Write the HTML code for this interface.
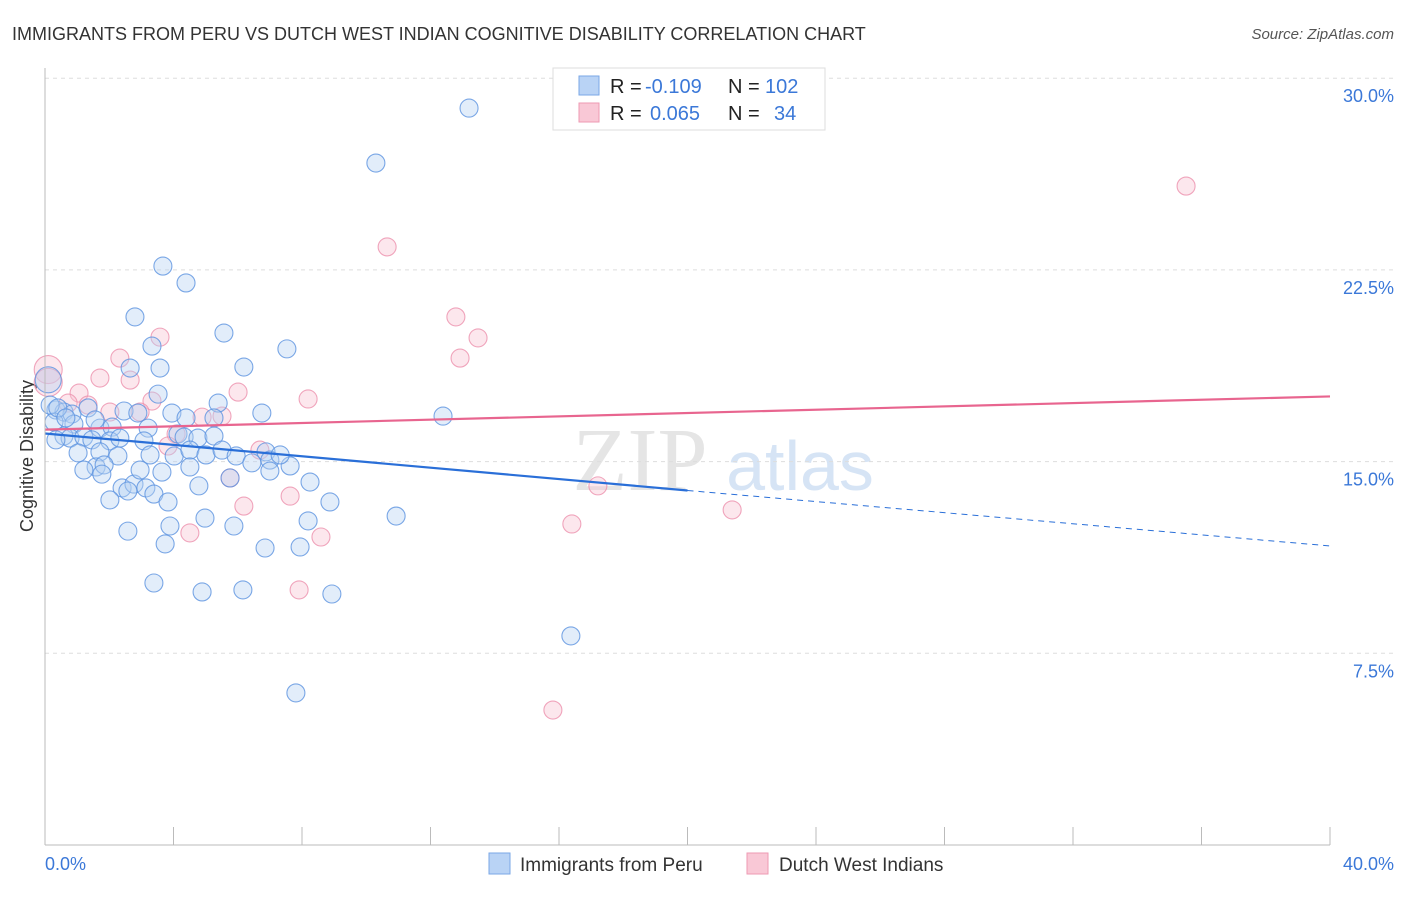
<!DOCTYPE html>
<html><head><meta charset="utf-8"><style>
body{margin:0;background:#fff;font-family:"Liberation Sans",sans-serif}
</style></head><body>
<svg id="c" width="1406" height="892" xmlns="http://www.w3.org/2000/svg">
<text x="12" y="40" font-size="18" fill="#333">IMMIGRANTS FROM PERU VS DUTCH WEST INDIAN COGNITIVE DISABILITY CORRELATION CHART</text>
<text x="1394" y="39" font-size="15" fill="#555" font-style="italic" text-anchor="end">Source: ZipAtlas.com</text>
<text x="33" y="456" font-size="18" fill="#333" text-anchor="middle" transform="rotate(-90 33 456)">Cognitive Disability</text>
<text x="640" y="490" font-size="90" fill="#e5e5e5" font-family="Liberation Serif" text-anchor="middle">ZIP</text>
<text x="800" y="490" font-size="70" fill="#d6e4f5" text-anchor="middle">atlas</text>
<g id="grid"></g><g id="pts"></g><g id="lines"></g>
<line x1="45" y1="68" x2="45" y2="845" stroke="#bbb"/>
<line x1="45" y1="845" x2="1330" y2="845" stroke="#bbb"/>
<text x="45" y="870" font-size="18" fill="#3b78d8">0.0%</text>
<text x="1394" y="870" font-size="18" fill="#3b78d8" text-anchor="end">40.0%</text>
<g>
<rect x="553" y="68" width="272" height="62" fill="#fff" stroke="#ddd"/>
<rect x="579" y="76" width="20" height="19" fill="#b9d3f5" stroke="#7aa7e6"/>
<rect x="579" y="103" width="20" height="19" fill="#f9c8d6" stroke="#ee9ab3"/>
<text x="610" y="93" font-size="20" fill="#222">R =</text>
<text x="645" y="93" font-size="20" fill="#3b78d8">-0.109</text>
<text x="728" y="93" font-size="20" fill="#222">N =</text>
<text x="765" y="93" font-size="20" fill="#3b78d8">102</text>
<text x="610" y="120" font-size="20" fill="#222">R =</text>
<text x="650" y="120" font-size="20" fill="#3b78d8">0.065</text>
<text x="728" y="120" font-size="20" fill="#222">N =</text>
<text x="774" y="120" font-size="20" fill="#3b78d8">34</text>
</g>
<g>
<rect x="489" y="853" width="21" height="21" fill="#b9d3f5" stroke="#7aa7e6"/>
<text x="520" y="871" font-size="19" fill="#333">Immigrants from Peru</text>
<rect x="747" y="853" width="21" height="21" fill="#f9c8d6" stroke="#ee9ab3"/>
<text x="779" y="871" font-size="19" fill="#333">Dutch West Indians</text>
</g>
</svg>
<script>
const yTicks=[7.5,15,22.5,30];
const xTicks=[0,4,8,12,16,20,24,28,32,36,40];
const bluePx=[[469,108],[376,163],[163,266],[186,283],[135,317],[224,333],[152,346],[287,349],[160,368],[244,367],[130,368],[158,394],[218,403],[262,413],[443,416],[56,410],[64,412],[72,414],[88,408],[124,411],[138,413],[172,413],[186,418],[214,418],[54,422],[74,424],[100,428],[112,427],[148,428],[178,434],[64,436],[70,438],[84,437],[92,440],[110,441],[120,438],[144,441],[184,437],[198,438],[214,436],[78,453],[100,452],[118,456],[174,456],[190,450],[206,455],[222,450],[236,456],[266,452],[270,460],[96,467],[104,465],[190,467],[252,463],[290,466],[102,474],[230,478],[270,471],[310,482],[122,488],[134,484],[146,488],[154,494],[168,502],[199,486],[128,491],[330,502],[396,516],[205,518],[170,526],[308,521],[128,531],[234,526],[165,544],[265,548],[300,547],[154,583],[202,592],[243,590],[332,594],[571,636],[296,693],[50,405],[58,408],[66,418],[56,440],[95,420],[150,455],[162,472],[110,500],[280,455],[84,470],[140,470]];
const pinkPx=[[1186,186],[387,247],[456,317],[478,338],[160,337],[460,358],[120,358],[100,378],[130,380],[79,393],[68,403],[88,405],[152,401],[238,392],[308,399],[110,412],[140,412],[202,417],[222,416],[176,434],[168,446],[260,450],[230,478],[290,496],[598,486],[244,506],[572,524],[732,510],[190,533],[321,537],[299,590],[553,710]];
const blueX=bluePx.map(p=>+((p[0]-45)/32.125).toFixed(2));
const blueY=bluePx.map(p=>+((845-p[1])/25.56).toFixed(2));
const pinkX=pinkPx.map(p=>+((p[0]-45)/32.125).toFixed(2));
const pinkY=pinkPx.map(p=>+((845-p[1])/25.56).toFixed(2));
const bigBlue=[[0.1,18.2]], bigPink=[[0.1,18.6],[0.1,18.1]];
const blueTrend=[[0,16.1],[20,13.87],[40,11.7]];
const pinkTrend=[[0,16.25],[40,17.55]];
const X=v=>45+v*32.125, Y=v=>845-v*25.56;
const NS="http://www.w3.org/2000/svg";
function mk(t,a,p){const e=document.createElementNS(NS,t);for(const k in a)e.setAttribute(k,a[k]);p.appendChild(e);return e;}
const grid=document.getElementById('grid');
yTicks.forEach(v=>{
 const l=mk('line',{x1:45,x2:1394,y1:Y(v),y2:Y(v),stroke:'#ddd','stroke-dasharray':'4,4'},grid);
 
 
 const t=mk('text',{x:1394,y:Y(v)+24,'font-size':18,fill:'#3b78d8','text-anchor':'end'},grid);
 t.textContent=v.toFixed(1)+'%';
 
 
});
xTicks.forEach(v=>{
 const l=mk('line',{x1:X(v),x2:X(v),y1:827,y2:845,stroke:'#bbb'},grid);
 
 
});
const pts=document.getElementById('pts');
function dot(x,y,r,f,s,name){const c=mk('circle',{cx:X(x),cy:Y(y),r:r,fill:f,'fill-opacity':0.4,stroke:s,'stroke-opacity':0.8,'stroke-width':1.1},pts);
 
 }
pinkX.forEach((x,i)=>dot(x,pinkY[i],9,'#f8c3d3','#ec90ad','pink-point'));
bigPink.forEach(p=>dot(p[0],p[1],14,'#f8c3d3','#ec90ad','pink-point'));
blueX.forEach((x,i)=>dot(x,blueY[i],9,'#b7d1f3','#5b92e0','blue-point'));
bigBlue.forEach(p=>dot(p[0],p[1],13,'#b7d1f3','#5b92e0','blue-point'));
const lines=document.getElementById('lines');
let a=mk('line',{x1:X(blueTrend[0][0]),y1:Y(blueTrend[0][1]),x2:X(blueTrend[1][0]),y2:Y(blueTrend[1][1]),stroke:'#2a6fd8','stroke-width':2.2},lines);


a=mk('line',{x1:X(blueTrend[1][0]),y1:Y(blueTrend[1][1]),x2:X(blueTrend[2][0]),y2:Y(blueTrend[2][1]),stroke:'#2a6fd8','stroke-width':1,'stroke-dasharray':'6,5'},lines);


a=mk('line',{x1:X(pinkTrend[0][0]),y1:Y(pinkTrend[0][1]),x2:X(pinkTrend[1][0]),y2:Y(pinkTrend[1][1]),stroke:'#e8658f','stroke-width':2.2},lines);


</script>
</body></html>
